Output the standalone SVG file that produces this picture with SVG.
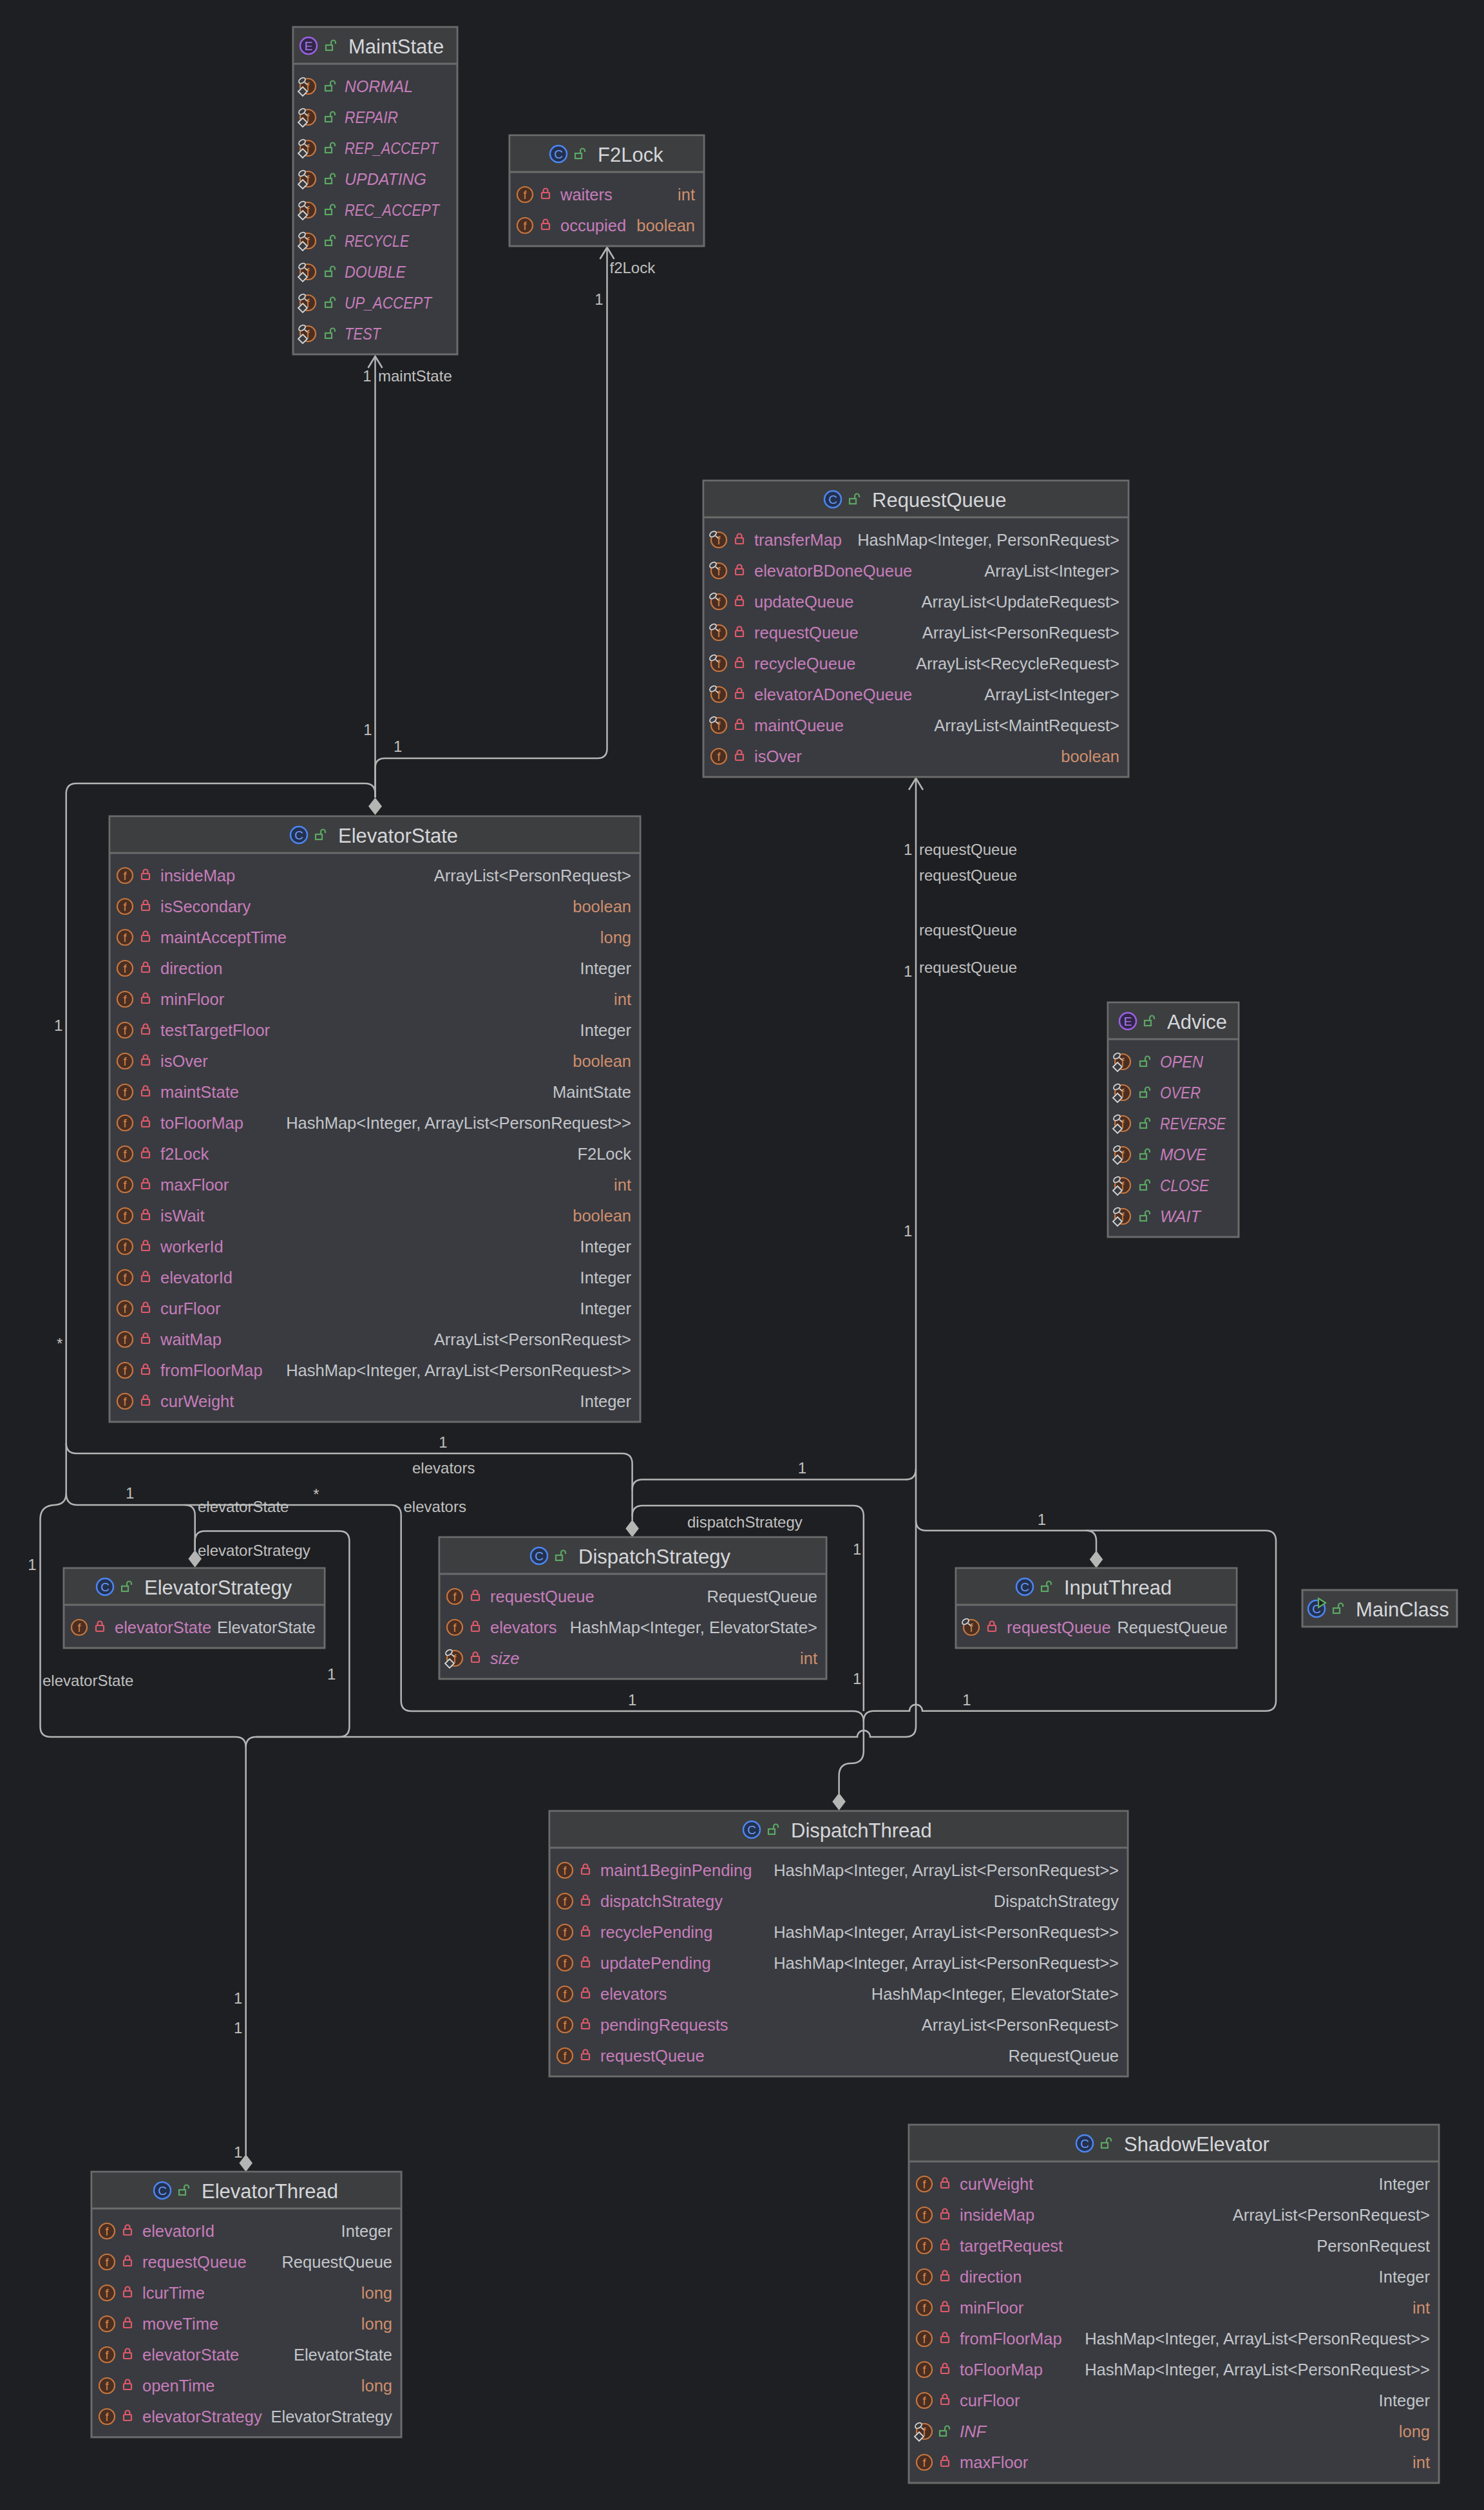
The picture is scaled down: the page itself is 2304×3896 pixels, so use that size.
<svg xmlns="http://www.w3.org/2000/svg" xmlns:xlink="http://www.w3.org/1999/xlink" width="2304" height="3896" viewBox="0 0 2304 3896">
<style>
text{font-family:"Liberation Sans",Arial,sans-serif}
.bx{fill:#393b40;stroke:#6b6b6b;stroke-width:3}
.hd{fill:#3d3e40}
.dv{stroke:#6b6b6b;stroke-width:3}
.tt{font-size:31px;fill:#d5d7db}
.nm{font-size:25.5px;fill:#c77dbb}
.ty{font-size:25.5px;fill:#c3c5ca;text-anchor:end}
.pr{font-size:25.5px;fill:#cf8e6d;text-anchor:end}
.it{font-style:italic}
.cn{fill:none;stroke:#b5b5b5;stroke-width:2.5}
.dm{fill:#b5b5b5}
.lb{font-size:24px;fill:#c0c0c0}
.mid{text-anchor:middle}
</style>
<defs>
<g id="fi"><circle r="12" fill="#4a2e22" stroke="#c8773f" stroke-width="2.2"/><text y="6.5" text-anchor="middle" font-size="18" fill="#d88a4e">f</text></g>
<g id="pin"><ellipse cx="-9" cy="-9" rx="5.5" ry="3.6" transform="rotate(-35 -9 -9)" fill="#3a3c40" stroke="#d6d6d6" stroke-width="1.8"/><path d="M-5 -6 L-1 -3" stroke="#d6d6d6" stroke-width="1.8"/></g>
<path id="fin" d="M-8 1 L-1 8 L-8 15 L-15 8 Z" fill="#3a3c40" stroke="#d6d6d6" stroke-width="1.8"/>
<g id="lk" fill="none" stroke="#e0596a" stroke-width="2.2"><rect x="-6" y="-2" width="12" height="9" rx="1"/><path d="M-3.5 -2 V-5 A3.5 3.5 0 0 1 3.5 -5 V-2"/></g>
<g id="ul" fill="none" stroke="#5ca764" stroke-width="2.2"><rect x="-8" y="-1" width="10" height="8"/><path d="M0 -1 V-5 A3.5 3.5 0 0 1 7 -5 V-3"/></g>
<g id="ci"><circle r="13" fill="#233150" stroke="#4d86f2" stroke-width="2.5"/><text y="6.5" text-anchor="middle" font-size="19" fill="#6a9cf7">C</text></g>
<g id="ei"><circle r="13" fill="#32264a" stroke="#9a62e3" stroke-width="2.5"/><text y="6.5" text-anchor="middle" font-size="19" fill="#a97ae8">E</text></g>
<g id="sfi"><use href="#fi"/><use href="#pin"/><use href="#fin"/></g>
<g id="pfi"><use href="#fi"/><use href="#pin"/></g>
</defs>
<rect width="2304" height="3896" fill="#1e1f22"/>

<g id="connectors">
<g class="cn">
<path d="M582.5 1238 V553"/>
<path d="M582.5 1238 V1192 Q582.5 1177 597.5 1177 H927.5 Q942.5 1177 942.5 1162 V384"/>
<path d="M582.5 1238 V1232 Q582.5 1216 566.5 1216 H118.7 Q102.7 1216 102.7 1232 V2318"/>
<path d="M102.7 2240 Q102.7 2256 118.7 2256 H965.6 Q981.6 2256 981.6 2272 V2360"/>
<path d="M102.7 2318 Q102.7 2336 120 2336 H606.7 Q622.7 2336 622.7 2352 V2640 Q622.7 2656 638.7 2656 H1324.8 Q1340.8 2656 1340.8 2672 V2718 Q1340.8 2737 1321.7 2737 Q1302.6 2737 1302.6 2756 V2784"/>
<path d="M286.7 2336 Q302.7 2336 302.7 2352 V2407"/>
<path d="M102.7 2318 Q102.7 2335 85 2336 Q62.5 2337 62.5 2358 V2680 Q62.5 2696 78.5 2696 H365.7 Q381.7 2696 381.7 2712 V3345"/>
<path d="M302.7 2407 V2392 Q302.7 2376.5 318.2 2376.5 H526.9 Q542.4 2376.5 542.4 2392 V2680 Q542.4 2696 526.4 2696 H397.7 Q381.7 2696 381.7 2712"/>
<path d="M1422 1208 V2680 Q1422 2696 1406 2696 H1351 A10 10 0 0 0 1331 2696 H397.7"/>
<path d="M1422 2280 Q1422 2296.6 1406 2296.6 H997.6 Q981.6 2296.6 981.6 2312.6"/>
<path d="M981.6 2353 Q981.6 2337 997.6 2337 H1324.8 Q1340.8 2337 1340.8 2353 V2656"/>
<path d="M1422 2360 Q1422 2375.7 1438 2375.7 H1965 Q1981 2375.7 1981 2391.7 V2639.7 Q1981 2655.7 1965 2655.7 H1432 A10 10 0 0 0 1412 2655.7 H1356.8 Q1340.8 2655.7 1340.8 2671.7"/>
<path d="M1686 2375.7 Q1702 2375.7 1702 2391.7 V2408"/>
<path d="M571.5 571 L582.5 553 L593.5 571"/>
<path d="M931.5 402 L942.5 384 L953.5 402"/>
<path d="M1411 1226 L1422 1208 L1433 1226"/>
</g>
<g class="dm">
<polygon points="582.5,1238 593,1251.5 582.5,1265 572,1251.5"/>
<polygon points="302.7,2406 313,2419.5 302.7,2433 292.4,2419.5"/>
<polygon points="981.6,2359 991.9,2372.5 981.6,2386 971.3,2372.5"/>
<polygon points="1702,2407 1712.3,2420.5 1702,2434 1691.7,2420.5"/>
<polygon points="1302.6,2783 1312.9,2796.5 1302.6,2810 1292.3,2796.5"/>
<polygon points="381.7,3344 392,3357.5 381.7,3371 371.4,3357.5"/>
</g>
<g class="lb">
<text class="mid" x="570" y="591.5">1</text><text x="587" y="591.5">maintState</text>
<text class="mid" x="571" y="1141">1</text>
<text class="mid" x="617.6" y="1166.5">1</text>
<text class="mid" x="930" y="472.5">1</text><text x="946.5" y="424">f2Lock</text>
<text class="mid" x="1409.6" y="1326.5">1</text><text x="1427" y="1326.5">requestQueue</text>
<text x="1427" y="1366.5">requestQueue</text>
<text x="1427" y="1451.5">requestQueue</text>
<text class="mid" x="1409.6" y="1515.5">1</text><text x="1427" y="1509.5">requestQueue</text>
<text class="mid" x="1409.6" y="1918.5">1</text>
<text class="mid" x="90.7" y="1599.5">1</text>
<text class="mid" x="92.7" y="2094">*</text>
<text class="mid" x="688" y="2246.5">1</text><text x="640" y="2286.5">elevators</text>
<text class="mid" x="1245.4" y="2286.5">1</text>
<text class="mid" x="201.8" y="2326">1</text><text x="307" y="2346.5">elevatorState</text>
<text class="mid" x="491" y="2328">*</text><text x="626.5" y="2346.5">elevators</text>
<text x="1067" y="2371">dispatchStrategy</text>
<text x="307" y="2414.5">elevatorStrategy</text>
<text class="mid" x="50" y="2436.5">1</text>
<text class="mid" x="1330.6" y="2413">1</text>
<text class="mid" x="1330.6" y="2613.5">1</text>
<text class="mid" x="1617.5" y="2366.5">1</text>
<text x="66" y="2616.5">elevatorState</text>
<text class="mid" x="514.7" y="2606.5">1</text>
<text class="mid" x="981.6" y="2646.5">1</text>
<text class="mid" x="1501" y="2646.5">1</text>
<text class="mid" x="369.6" y="3109.5">1</text>
<text class="mid" x="369.6" y="3155.5">1</text>
<text class="mid" x="369.6" y="3348.5">1</text>
</g>
</g>

<g id="MaintState">
<rect class="bx" x="455" y="42" width="255" height="508"/>
<rect class="hd" x="456.5" y="43.5" width="252" height="55"/>
<line class="dv" x1="455" y1="99" x2="710" y2="99"/>
<use href="#ei" x="479" y="71"/><use href="#ul" x="514" y="71"/><text class="tt" x="541" y="82.5">MaintState</text>
<use href="#sfi" x="478" y="134"/><use href="#ul" x="513" y="134"/><text class="nm it" x="535" y="143" textLength="106" lengthAdjust="spacingAndGlyphs">NORMAL</text>
<use href="#sfi" x="478" y="182"/><use href="#ul" x="513" y="182"/><text class="nm it" x="535" y="191" textLength="83" lengthAdjust="spacingAndGlyphs">REPAIR</text>
<use href="#sfi" x="478" y="230"/><use href="#ul" x="513" y="230"/><text class="nm it" x="535" y="239" textLength="145" lengthAdjust="spacingAndGlyphs">REP_ACCEPT</text>
<use href="#sfi" x="478" y="278"/><use href="#ul" x="513" y="278"/><text class="nm it" x="535" y="287" textLength="127" lengthAdjust="spacingAndGlyphs">UPDATING</text>
<use href="#sfi" x="478" y="326"/><use href="#ul" x="513" y="326"/><text class="nm it" x="535" y="335" textLength="147" lengthAdjust="spacingAndGlyphs">REC_ACCEPT</text>
<use href="#sfi" x="478" y="374"/><use href="#ul" x="513" y="374"/><text class="nm it" x="535" y="383" textLength="100" lengthAdjust="spacingAndGlyphs">RECYCLE</text>
<use href="#sfi" x="478" y="422"/><use href="#ul" x="513" y="422"/><text class="nm it" x="535" y="431" textLength="95" lengthAdjust="spacingAndGlyphs">DOUBLE</text>
<use href="#sfi" x="478" y="470"/><use href="#ul" x="513" y="470"/><text class="nm it" x="535" y="479" textLength="135" lengthAdjust="spacingAndGlyphs">UP_ACCEPT</text>
<use href="#sfi" x="478" y="518"/><use href="#ul" x="513" y="518"/><text class="nm it" x="535" y="527" textLength="56" lengthAdjust="spacingAndGlyphs">TEST</text>
</g>

<g id="F2Lock">
<rect class="bx" x="791" y="210" width="302" height="172"/>
<rect class="hd" x="792.5" y="211.5" width="299" height="55"/>
<line class="dv" x1="791" y1="267" x2="1093" y2="267"/>
<use href="#ci" x="867" y="239"/><use href="#ul" x="901" y="239"/><text class="tt" x="928" y="250.5">F2Lock</text>
<use href="#fi" x="815" y="302"/><use href="#lk" x="847" y="301"/><text class="nm" x="870" y="311">waiters</text><text class="pr" x="1079" y="311">int</text>
<use href="#fi" x="815" y="350"/><use href="#lk" x="847" y="349"/><text class="nm" x="870" y="359">occupied</text><text class="pr" x="1079" y="359">boolean</text>
</g>

<g id="RequestQueue">
<rect class="bx" x="1092" y="746" width="660" height="460"/>
<rect class="hd" x="1093.5" y="747.5" width="657" height="55"/>
<line class="dv" x1="1092" y1="803" x2="1752" y2="803"/>
<use href="#ci" x="1293" y="775"/><use href="#ul" x="1327" y="775"/><text class="tt" x="1354" y="786.5">RequestQueue</text>
<use href="#pfi" x="1116" y="838"/><use href="#lk" x="1148" y="837"/><text class="nm" x="1171" y="847">transferMap</text><text class="ty" x="1738" y="847">HashMap&lt;Integer, PersonRequest&gt;</text>
<use href="#pfi" x="1116" y="886"/><use href="#lk" x="1148" y="885"/><text class="nm" x="1171" y="895">elevatorBDoneQueue</text><text class="ty" x="1738" y="895">ArrayList&lt;Integer&gt;</text>
<use href="#pfi" x="1116" y="934"/><use href="#lk" x="1148" y="933"/><text class="nm" x="1171" y="943">updateQueue</text><text class="ty" x="1738" y="943">ArrayList&lt;UpdateRequest&gt;</text>
<use href="#pfi" x="1116" y="982"/><use href="#lk" x="1148" y="981"/><text class="nm" x="1171" y="991">requestQueue</text><text class="ty" x="1738" y="991">ArrayList&lt;PersonRequest&gt;</text>
<use href="#pfi" x="1116" y="1030"/><use href="#lk" x="1148" y="1029"/><text class="nm" x="1171" y="1039">recycleQueue</text><text class="ty" x="1738" y="1039">ArrayList&lt;RecycleRequest&gt;</text>
<use href="#pfi" x="1116" y="1078"/><use href="#lk" x="1148" y="1077"/><text class="nm" x="1171" y="1087">elevatorADoneQueue</text><text class="ty" x="1738" y="1087">ArrayList&lt;Integer&gt;</text>
<use href="#pfi" x="1116" y="1126"/><use href="#lk" x="1148" y="1125"/><text class="nm" x="1171" y="1135">maintQueue</text><text class="ty" x="1738" y="1135">ArrayList&lt;MaintRequest&gt;</text>
<use href="#fi" x="1116" y="1174"/><use href="#lk" x="1148" y="1173"/><text class="nm" x="1171" y="1183">isOver</text><text class="pr" x="1738" y="1183">boolean</text>
</g>

<g id="ElevatorState">
<rect class="bx" x="170" y="1267" width="824" height="940"/>
<rect class="hd" x="171.5" y="1268.5" width="821" height="55"/>
<line class="dv" x1="170" y1="1324" x2="994" y2="1324"/>
<use href="#ci" x="464" y="1296"/><use href="#ul" x="498" y="1296"/><text class="tt" x="525" y="1307.5">ElevatorState</text>
<use href="#fi" x="194" y="1359"/><use href="#lk" x="226" y="1358"/><text class="nm" x="249" y="1368">insideMap</text><text class="ty" x="980" y="1368">ArrayList&lt;PersonRequest&gt;</text>
<use href="#fi" x="194" y="1407"/><use href="#lk" x="226" y="1406"/><text class="nm" x="249" y="1416">isSecondary</text><text class="pr" x="980" y="1416">boolean</text>
<use href="#fi" x="194" y="1455"/><use href="#lk" x="226" y="1454"/><text class="nm" x="249" y="1464">maintAcceptTime</text><text class="pr" x="980" y="1464">long</text>
<use href="#fi" x="194" y="1503"/><use href="#lk" x="226" y="1502"/><text class="nm" x="249" y="1512">direction</text><text class="ty" x="980" y="1512">Integer</text>
<use href="#fi" x="194" y="1551"/><use href="#lk" x="226" y="1550"/><text class="nm" x="249" y="1560">minFloor</text><text class="pr" x="980" y="1560">int</text>
<use href="#fi" x="194" y="1599"/><use href="#lk" x="226" y="1598"/><text class="nm" x="249" y="1608">testTargetFloor</text><text class="ty" x="980" y="1608">Integer</text>
<use href="#fi" x="194" y="1647"/><use href="#lk" x="226" y="1646"/><text class="nm" x="249" y="1656">isOver</text><text class="pr" x="980" y="1656">boolean</text>
<use href="#fi" x="194" y="1695"/><use href="#lk" x="226" y="1694"/><text class="nm" x="249" y="1704">maintState</text><text class="ty" x="980" y="1704">MaintState</text>
<use href="#fi" x="194" y="1743"/><use href="#lk" x="226" y="1742"/><text class="nm" x="249" y="1752">toFloorMap</text><text class="ty" x="980" y="1752">HashMap&lt;Integer, ArrayList&lt;PersonRequest&gt;&gt;</text>
<use href="#fi" x="194" y="1791"/><use href="#lk" x="226" y="1790"/><text class="nm" x="249" y="1800">f2Lock</text><text class="ty" x="980" y="1800">F2Lock</text>
<use href="#fi" x="194" y="1839"/><use href="#lk" x="226" y="1838"/><text class="nm" x="249" y="1848">maxFloor</text><text class="pr" x="980" y="1848">int</text>
<use href="#fi" x="194" y="1887"/><use href="#lk" x="226" y="1886"/><text class="nm" x="249" y="1896">isWait</text><text class="pr" x="980" y="1896">boolean</text>
<use href="#fi" x="194" y="1935"/><use href="#lk" x="226" y="1934"/><text class="nm" x="249" y="1944">workerId</text><text class="ty" x="980" y="1944">Integer</text>
<use href="#fi" x="194" y="1983"/><use href="#lk" x="226" y="1982"/><text class="nm" x="249" y="1992">elevatorId</text><text class="ty" x="980" y="1992">Integer</text>
<use href="#fi" x="194" y="2031"/><use href="#lk" x="226" y="2030"/><text class="nm" x="249" y="2040">curFloor</text><text class="ty" x="980" y="2040">Integer</text>
<use href="#fi" x="194" y="2079"/><use href="#lk" x="226" y="2078"/><text class="nm" x="249" y="2088">waitMap</text><text class="ty" x="980" y="2088">ArrayList&lt;PersonRequest&gt;</text>
<use href="#fi" x="194" y="2127"/><use href="#lk" x="226" y="2126"/><text class="nm" x="249" y="2136">fromFloorMap</text><text class="ty" x="980" y="2136">HashMap&lt;Integer, ArrayList&lt;PersonRequest&gt;&gt;</text>
<use href="#fi" x="194" y="2175"/><use href="#lk" x="226" y="2174"/><text class="nm" x="249" y="2184">curWeight</text><text class="ty" x="980" y="2184">Integer</text>
</g>

<g id="Advice">
<rect class="bx" x="1720" y="1556" width="203" height="364"/>
<rect class="hd" x="1721.5" y="1557.5" width="200" height="55"/>
<line class="dv" x1="1720" y1="1613" x2="1923" y2="1613"/>
<use href="#ei" x="1751" y="1585"/><use href="#ul" x="1785" y="1585"/><text class="tt" x="1812" y="1596.5">Advice</text>
<use href="#sfi" x="1743" y="1648"/><use href="#ul" x="1778" y="1648"/><text class="nm it" x="1801" y="1657" textLength="67" lengthAdjust="spacingAndGlyphs">OPEN</text>
<use href="#sfi" x="1743" y="1696"/><use href="#ul" x="1778" y="1696"/><text class="nm it" x="1801" y="1705" textLength="63" lengthAdjust="spacingAndGlyphs">OVER</text>
<use href="#sfi" x="1743" y="1744"/><use href="#ul" x="1778" y="1744"/><text class="nm it" x="1801" y="1753" textLength="102" lengthAdjust="spacingAndGlyphs">REVERSE</text>
<use href="#sfi" x="1743" y="1792"/><use href="#ul" x="1778" y="1792"/><text class="nm it" x="1801" y="1801" textLength="72" lengthAdjust="spacingAndGlyphs">MOVE</text>
<use href="#sfi" x="1743" y="1840"/><use href="#ul" x="1778" y="1840"/><text class="nm it" x="1801" y="1849" textLength="76" lengthAdjust="spacingAndGlyphs">CLOSE</text>
<use href="#sfi" x="1743" y="1888"/><use href="#ul" x="1778" y="1888"/><text class="nm it" x="1801" y="1897" textLength="63" lengthAdjust="spacingAndGlyphs">WAIT</text>
</g>

<g id="ElevatorStrategy">
<rect class="bx" x="99" y="2434" width="405" height="124"/>
<rect class="hd" x="100.5" y="2435.5" width="402" height="55"/>
<line class="dv" x1="99" y1="2491" x2="504" y2="2491"/>
<use href="#ci" x="163" y="2463"/><use href="#ul" x="197" y="2463"/><text class="tt" x="224" y="2474.5">ElevatorStrategy</text>
<use href="#fi" x="123" y="2526"/><use href="#lk" x="155" y="2525"/><text class="nm" x="178" y="2535">elevatorState</text><text class="ty" x="490" y="2535">ElevatorState</text>
</g>

<g id="DispatchStrategy">
<rect class="bx" x="682" y="2386" width="601" height="220"/>
<rect class="hd" x="683.5" y="2387.5" width="598" height="55"/>
<line class="dv" x1="682" y1="2443" x2="1283" y2="2443"/>
<use href="#ci" x="837" y="2415"/><use href="#ul" x="871" y="2415"/><text class="tt" x="898" y="2426.5">DispatchStrategy</text>
<use href="#fi" x="706" y="2478"/><use href="#lk" x="738" y="2477"/><text class="nm" x="761" y="2487">requestQueue</text><text class="ty" x="1269" y="2487">RequestQueue</text>
<use href="#fi" x="706" y="2526"/><use href="#lk" x="738" y="2525"/><text class="nm" x="761" y="2535">elevators</text><text class="ty" x="1269" y="2535">HashMap&lt;Integer, ElevatorState&gt;</text>
<use href="#sfi" x="706" y="2574"/><use href="#lk" x="738" y="2573"/><text class="nm it" x="761" y="2583">size</text><text class="pr" x="1269" y="2583">int</text>
</g>

<g id="InputThread">
<rect class="bx" x="1484" y="2434" width="436" height="124"/>
<rect class="hd" x="1485.5" y="2435.5" width="433" height="55"/>
<line class="dv" x1="1484" y1="2491" x2="1920" y2="2491"/>
<use href="#ci" x="1591" y="2463"/><use href="#ul" x="1625" y="2463"/><text class="tt" x="1652" y="2474.5">InputThread</text>
<use href="#pfi" x="1508" y="2526"/><use href="#lk" x="1540" y="2525"/><text class="nm" x="1563" y="2535">requestQueue</text><text class="ty" x="1906" y="2535">RequestQueue</text>
</g>

<g id="MainClass">
<rect class="bx" x="2022" y="2468" width="240" height="57" style="fill:#3d3e40"/>
<use href="#ci" x="2044" y="2497"/><path d="M2047 2481 L2058 2488 L2047 2495 Z" fill="#1e1f22" stroke="#5fae62" stroke-width="2.2"/>
<use href="#ul" x="2078" y="2497"/><text class="tt" x="2105" y="2508.5">MainClass</text>
</g>

<g id="DispatchThread">
<rect class="bx" x="853" y="2811" width="898" height="412"/>
<rect class="hd" x="854.5" y="2812.5" width="895" height="55"/>
<line class="dv" x1="853" y1="2868" x2="1751" y2="2868"/>
<use href="#ci" x="1167" y="2840"/><use href="#ul" x="1201" y="2840"/><text class="tt" x="1228" y="2851.5">DispatchThread</text>
<use href="#fi" x="877" y="2903"/><use href="#lk" x="909" y="2902"/><text class="nm" x="932" y="2912">maint1BeginPending</text><text class="ty" x="1737" y="2912">HashMap&lt;Integer, ArrayList&lt;PersonRequest&gt;&gt;</text>
<use href="#fi" x="877" y="2951"/><use href="#lk" x="909" y="2950"/><text class="nm" x="932" y="2960">dispatchStrategy</text><text class="ty" x="1737" y="2960">DispatchStrategy</text>
<use href="#fi" x="877" y="2999"/><use href="#lk" x="909" y="2998"/><text class="nm" x="932" y="3008">recyclePending</text><text class="ty" x="1737" y="3008">HashMap&lt;Integer, ArrayList&lt;PersonRequest&gt;&gt;</text>
<use href="#fi" x="877" y="3047"/><use href="#lk" x="909" y="3046"/><text class="nm" x="932" y="3056">updatePending</text><text class="ty" x="1737" y="3056">HashMap&lt;Integer, ArrayList&lt;PersonRequest&gt;&gt;</text>
<use href="#fi" x="877" y="3095"/><use href="#lk" x="909" y="3094"/><text class="nm" x="932" y="3104">elevators</text><text class="ty" x="1737" y="3104">HashMap&lt;Integer, ElevatorState&gt;</text>
<use href="#fi" x="877" y="3143"/><use href="#lk" x="909" y="3142"/><text class="nm" x="932" y="3152">pendingRequests</text><text class="ty" x="1737" y="3152">ArrayList&lt;PersonRequest&gt;</text>
<use href="#fi" x="877" y="3191"/><use href="#lk" x="909" y="3190"/><text class="nm" x="932" y="3200">requestQueue</text><text class="ty" x="1737" y="3200">RequestQueue</text>
</g>

<g id="ElevatorThread">
<rect class="bx" x="142" y="3371" width="481" height="412"/>
<rect class="hd" x="143.5" y="3372.5" width="478" height="55"/>
<line class="dv" x1="142" y1="3428" x2="623" y2="3428"/>
<use href="#ci" x="252" y="3400"/><use href="#ul" x="286" y="3400"/><text class="tt" x="313" y="3411.5">ElevatorThread</text>
<use href="#fi" x="166" y="3463"/><use href="#lk" x="198" y="3462"/><text class="nm" x="221" y="3472">elevatorId</text><text class="ty" x="609" y="3472">Integer</text>
<use href="#fi" x="166" y="3511"/><use href="#lk" x="198" y="3510"/><text class="nm" x="221" y="3520">requestQueue</text><text class="ty" x="609" y="3520">RequestQueue</text>
<use href="#fi" x="166" y="3559"/><use href="#lk" x="198" y="3558"/><text class="nm" x="221" y="3568">lcurTime</text><text class="pr" x="609" y="3568">long</text>
<use href="#fi" x="166" y="3607"/><use href="#lk" x="198" y="3606"/><text class="nm" x="221" y="3616">moveTime</text><text class="pr" x="609" y="3616">long</text>
<use href="#fi" x="166" y="3655"/><use href="#lk" x="198" y="3654"/><text class="nm" x="221" y="3664">elevatorState</text><text class="ty" x="609" y="3664">ElevatorState</text>
<use href="#fi" x="166" y="3703"/><use href="#lk" x="198" y="3702"/><text class="nm" x="221" y="3712">openTime</text><text class="pr" x="609" y="3712">long</text>
<use href="#fi" x="166" y="3751"/><use href="#lk" x="198" y="3750"/><text class="nm" x="221" y="3760">elevatorStrategy</text><text class="ty" x="609" y="3760">ElevatorStrategy</text>
</g>

<g id="ShadowElevator">
<rect class="bx" x="1411" y="3298" width="823" height="556"/>
<rect class="hd" x="1412.5" y="3299.5" width="820" height="55"/>
<line class="dv" x1="1411" y1="3355" x2="2234" y2="3355"/>
<use href="#ci" x="1684" y="3327"/><use href="#ul" x="1718" y="3327"/><text class="tt" x="1745" y="3338.5">ShadowElevator</text>
<use href="#fi" x="1435" y="3390"/><use href="#lk" x="1467" y="3389"/><text class="nm" x="1490" y="3399">curWeight</text><text class="ty" x="2220" y="3399">Integer</text>
<use href="#fi" x="1435" y="3438"/><use href="#lk" x="1467" y="3437"/><text class="nm" x="1490" y="3447">insideMap</text><text class="ty" x="2220" y="3447">ArrayList&lt;PersonRequest&gt;</text>
<use href="#fi" x="1435" y="3486"/><use href="#lk" x="1467" y="3485"/><text class="nm" x="1490" y="3495">targetRequest</text><text class="ty" x="2220" y="3495">PersonRequest</text>
<use href="#fi" x="1435" y="3534"/><use href="#lk" x="1467" y="3533"/><text class="nm" x="1490" y="3543">direction</text><text class="ty" x="2220" y="3543">Integer</text>
<use href="#fi" x="1435" y="3582"/><use href="#lk" x="1467" y="3581"/><text class="nm" x="1490" y="3591">minFloor</text><text class="pr" x="2220" y="3591">int</text>
<use href="#fi" x="1435" y="3630"/><use href="#lk" x="1467" y="3629"/><text class="nm" x="1490" y="3639">fromFloorMap</text><text class="ty" x="2220" y="3639">HashMap&lt;Integer, ArrayList&lt;PersonRequest&gt;&gt;</text>
<use href="#fi" x="1435" y="3678"/><use href="#lk" x="1467" y="3677"/><text class="nm" x="1490" y="3687">toFloorMap</text><text class="ty" x="2220" y="3687">HashMap&lt;Integer, ArrayList&lt;PersonRequest&gt;&gt;</text>
<use href="#fi" x="1435" y="3726"/><use href="#lk" x="1467" y="3725"/><text class="nm" x="1490" y="3735">curFloor</text><text class="ty" x="2220" y="3735">Integer</text>
<use href="#sfi" x="1435" y="3774"/><use href="#ul" x="1467" y="3774"/><text class="nm it" x="1490" y="3783">INF</text><text class="pr" x="2220" y="3783">long</text>
<use href="#fi" x="1435" y="3822"/><use href="#lk" x="1467" y="3821"/><text class="nm" x="1490" y="3831">maxFloor</text><text class="pr" x="2220" y="3831">int</text>
</g>
</svg>
